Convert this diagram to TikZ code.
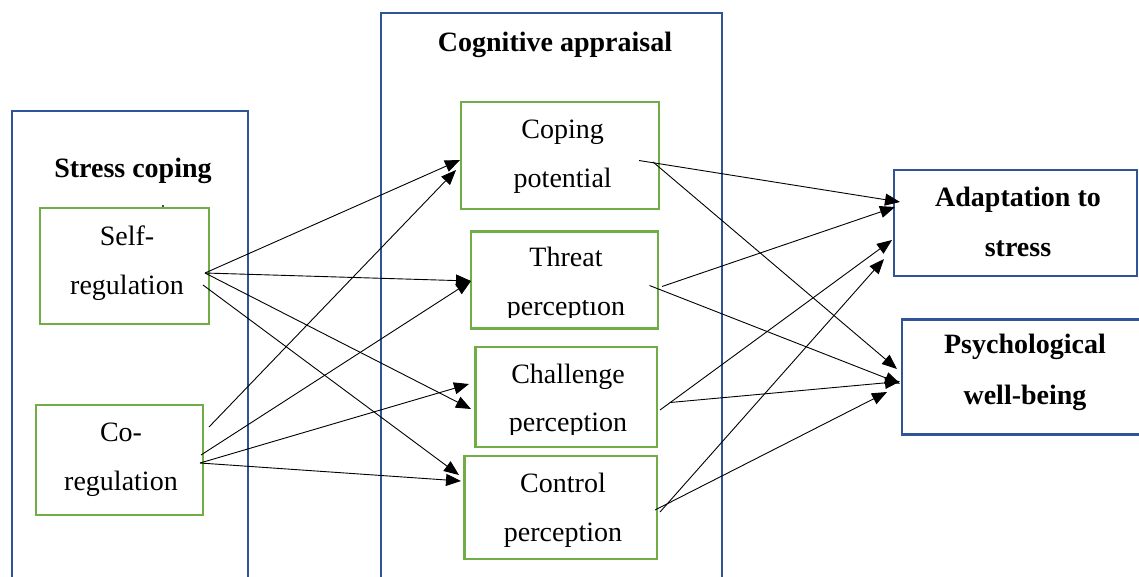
\documentclass[tikz,border=0pt]{standalone}
\usepackage{fontspec}
\setmainfont{Liberation Serif}
\usetikzlibrary{arrows.meta}
\definecolor{frameblue}{HTML}{2F5597}
\definecolor{boxgreen}{HTML}{70AD47}
\tikzset{
  panel/.style={draw=frameblue, line width=2pt, inner sep=0pt},
  gbox/.style={draw=boxgreen, line width=2.5pt, inner sep=0pt},
  obox/.style={draw=frameblue, line width=2.5pt, inner sep=0pt},
  txt/.style={font=\fontsize{28}{28}\selectfont, inner sep=0pt, anchor=base},
  btxt/.style={font=\fontsize{28}{28}\selectfont\bfseries, inner sep=0pt, anchor=base},
  link/.style={line width=0.9pt, -{Triangle[length=15pt,width=12pt]}},
}
\begin{document}
\begin{tikzpicture}[x=1pt, y=-1pt]
\useasboundingbox (0,0) rectangle (1139,576);
\clip (0,0) rectangle (1139,576);

% outer panels
\node[panel, minimum width=236pt, minimum height=489pt] (coping-panel) at (130,355.5) {};
\node[panel, minimum width=341pt, minimum height=587pt] (appraisal-panel) at (551.5,306.5) {};
\node[btxt] (coping-title) at (133,177) {Stress coping};
\node[btxt] (appraisal-title) at (555,51.5) {Cognitive appraisal};
\fill[black!70] (161.5,205.3) rectangle (164,207.5);

% coping strategies
\node[gbox, minimum width=169pt, minimum height=116pt] (self) at (124.5,266) {};
\node[txt] (self-l1) at (127,245) {Self-};
\node[txt] (self-l2) at (127,294) {regulation};
\node[gbox, minimum width=167pt, minimum height=110pt] (co) at (119.5,460) {};
\node[txt] (co-l1) at (121,441.5) {Co-};
\node[txt] (co-l2) at (121,490) {regulation};

% appraisal components
\node[gbox, minimum width=198pt, minimum height=107pt] (cope) at (560,155.5) {};
\node[txt] (cope-l1) at (562.7,138) {Coping};
\node[txt] (cope-l2) at (562.7,187) {potential};

\node[gbox, minimum width=187pt, minimum height=97pt] (threat) at (564.5,280) {};
\node[txt] (threat-l1) at (566,266.5) {Threat};
\begin{scope}
  \clip (472,300) rectangle (657,317.5);
  \node[txt] (threat-l2) at (566,315.5) {perception};
\end{scope}

\node[gbox, minimum width=181.5pt, minimum height=100pt] (chal) at (566.25,397) {};
\node[txt] (chal-l1) at (568,383.3) {Challenge};
\begin{scope}
  \clip (477,410) rectangle (656,434);
  \node[txt] (chal-l2) at (568,431.7) {perception};
\end{scope}

\node[gbox, minimum width=192.5pt, minimum height=103pt] (ctrl) at (560.75,507.5) {};
\node[txt] (ctrl-l1) at (563,492.7) {Control};
\node[txt] (ctrl-l2) at (563,541.7) {perception};

% outcomes
\node[obox, minimum width=243pt, minimum height=106pt] (adapt) at (1015.5,223) {};
\node[btxt] (adapt-l1) at (1018,206.7) {Adaptation to};
\node[btxt] (adapt-l2) at (1018,256) {stress};
\node[obox, minimum width=248pt, minimum height=115pt] (wellb) at (1026,377) {};
\node[btxt] (wellb-l1) at (1025,353.3) {Psychological};
\node[btxt] (wellb-l2) at (1025,404) {well-being};

% connector ends
\coordinate (self-a) at (205,273);
\coordinate (self-b) at (203,285);
\coordinate (co-a) at (209,427);
\coordinate (co-b) at (201,455);
\coordinate (co-c) at (200,463);
\coordinate (cope-in1) at (460,160);
\coordinate (cope-in2) at (456,170);
\coordinate (threat-in) at (471,281);
\coordinate (chal-in1) at (469,384);
\coordinate (chal-in2) at (471,409);
\coordinate (ctrl-in1) at (459,475);
\coordinate (ctrl-in2) at (461,481);
\coordinate (cope-a) at (639,160.5);
\coordinate (cope-b) at (653,162);
\coordinate (threat-a) at (662,286.5);
\coordinate (threat-b) at (649.5,285.5);
\coordinate (chal-a) at (660,410);
\coordinate (chal-b) at (670,402.5);
\coordinate (ctrl-a) at (660,512);
\coordinate (ctrl-b) at (655,510);
\coordinate (adapt-in1) at (900,202);
\coordinate (adapt-in2) at (895,207);
\coordinate (adapt-in3) at (892,240);
\coordinate (adapt-in4) at (884,259);
\coordinate (wellb-in1) at (897,369);
\coordinate (wellb-in2) at (900,383.5);
\coordinate (wellb-in3) at (900,381.5);
\coordinate (wellb-in4) at (887,392);

% coping -> appraisal
\draw[link] (self-a) -- (cope-in1);
\draw[link] (self-a) -- (threat-in);
\draw[link] (self-a) -- (chal-in2);
\draw[link] (self-b) -- (ctrl-in1);
\draw[link] (co-a) -- (cope-in2);
\draw[link] (co-b) -- (threat-in);
\draw[link] (co-c) -- (chal-in1);
\draw[link] (co-c) -- (ctrl-in2);

% appraisal -> outcomes
\draw[link] (cope-a) -- (adapt-in1);
\draw[link] (cope-b) -- (wellb-in1);
\draw[link] (threat-a) -- (adapt-in2);
\draw[link] (threat-b) -- (wellb-in2);
\draw[link] (chal-a) -- (adapt-in3);
\draw[link] (chal-b) -- (wellb-in3);
\draw[link] (ctrl-a) -- (adapt-in4);
\draw[link] (ctrl-b) -- (wellb-in4);
\end{tikzpicture}
\end{document}
